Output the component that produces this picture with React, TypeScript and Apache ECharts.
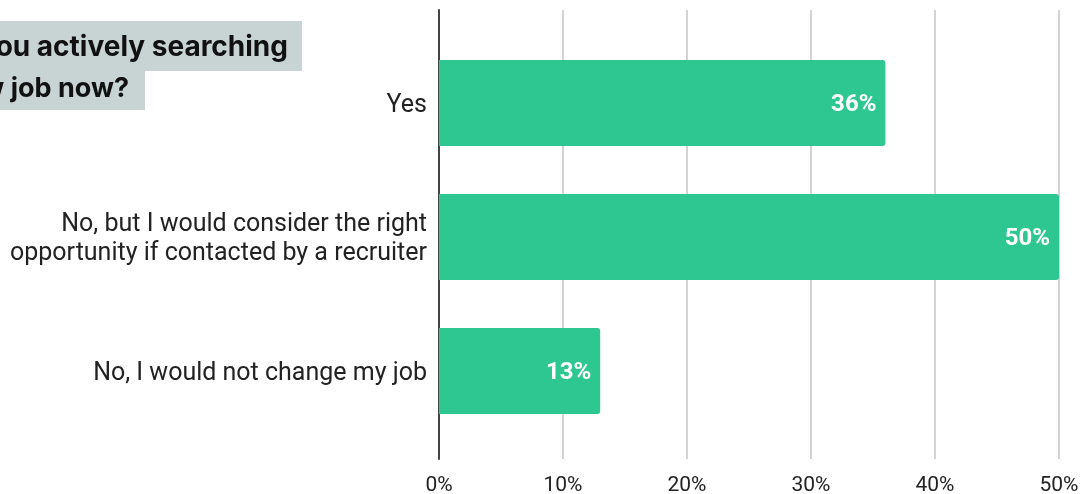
import React, { useEffect, useRef } from "react";
import * as echarts from "echarts";

const categories = [
  "Yes",
  "No, but I would consider the right\nopportunity if contacted by a recruiter",
  "No, I would not change my job",
];
const values = [36, 50, 13];
const titleLines = ["Are you actively searching", "for a new job now?"];
const xMin = 0;
const xMax = 50;
const xInterval = 10;

export default function App() {
  const ref = useRef<HTMLDivElement>(null);
  useEffect(() => {
    if (!ref.current) return;
    const chart = echarts.init(ref.current, undefined, { renderer: "svg" });
    const titleFont = "Inter, 'Open Sans', sans-serif";
    chart.setOption({
      animation: false,
      grid: [
        { left: 439, right: 27, top: 10, bottom: 33 },
        { left: 439, right: 27, top: 36, bottom: 56 },
      ],
      xAxis: [
        {
          gridIndex: 0,
          type: "value",
          min: xMin,
          max: xMax,
          interval: xInterval,
          axisLine: { show: false },
          axisTick: { show: false },
          splitLine: { show: true, lineStyle: { color: "#d3d3d3", width: 2 } },
          axisLabel: {
            formatter: "{value}%",
            fontFamily: "Roboto",
            fontSize: 21,
            color: "#222",
            margin: 14,
          },
        },
        {
          gridIndex: 1,
          type: "value",
          min: xMin,
          max: xMax,
          show: false,
        },
      ],
      yAxis: [
        {
          gridIndex: 0,
          type: "value",
          axisLine: { show: true, lineStyle: { color: "#444", width: 2 } },
          axisTick: { show: false },
          axisLabel: { show: false },
          splitLine: { show: false },
        },
        {
          gridIndex: 1,
          type: "category",
          inverse: true,
          data: categories,
          axisLine: { show: false },
          axisTick: { show: false },
          axisLabel: {
            fontFamily: "Roboto",
            fontSize: 25,
            color: "#222",
            margin: 12,
            lineHeight: 29,
            align: "right",
          },
        },
      ],
      series: [
        {
          type: "bar",
          xAxisIndex: 1,
          yAxisIndex: 1,
          data: values,
          barWidth: 86,
          itemStyle: { color: "#2ec691", borderRadius: [0, 3, 3, 0] },
          label: {
            show: true,
            position: "insideRight",
            distance: 9,
            formatter: "{c}%",
            color: "#fff",
            fontFamily: "Roboto",
            fontWeight: "bold",
            fontSize: 24,
          },
        },
      ],
      graphic: [
        {
          type: "rect",
          x: 0,
          y: 21,
          shape: { x: 0, y: 0, width: 302, height: 50 },
          style: { fill: "#c8d3d4" },
        },
        {
          type: "rect",
          x: 0,
          y: 71,
          shape: { x: 0, y: 0, width: 145, height: 39 },
          style: { fill: "#c8d3d4" },
        },
        {
          type: "text",
          x: 288,
          y: 46,
          style: {
            text: titleLines[0],
            align: "right",
            verticalAlign: "middle",
            font: `bold 28px ${titleFont}`,
            fill: "#111",
          },
        },
        {
          type: "text",
          x: 129,
          y: 87,
          style: {
            text: titleLines[1],
            align: "right",
            verticalAlign: "middle",
            font: `bold 27px ${titleFont}`,
            fill: "#111",
          },
        },
      ],
    });
    return () => chart.dispose();
  }, []);
  return (
    <div
      ref={ref}
      style={{ position: "fixed", left: 0, top: 0, width: 1086, height: 494 }}
    />
  );
}
